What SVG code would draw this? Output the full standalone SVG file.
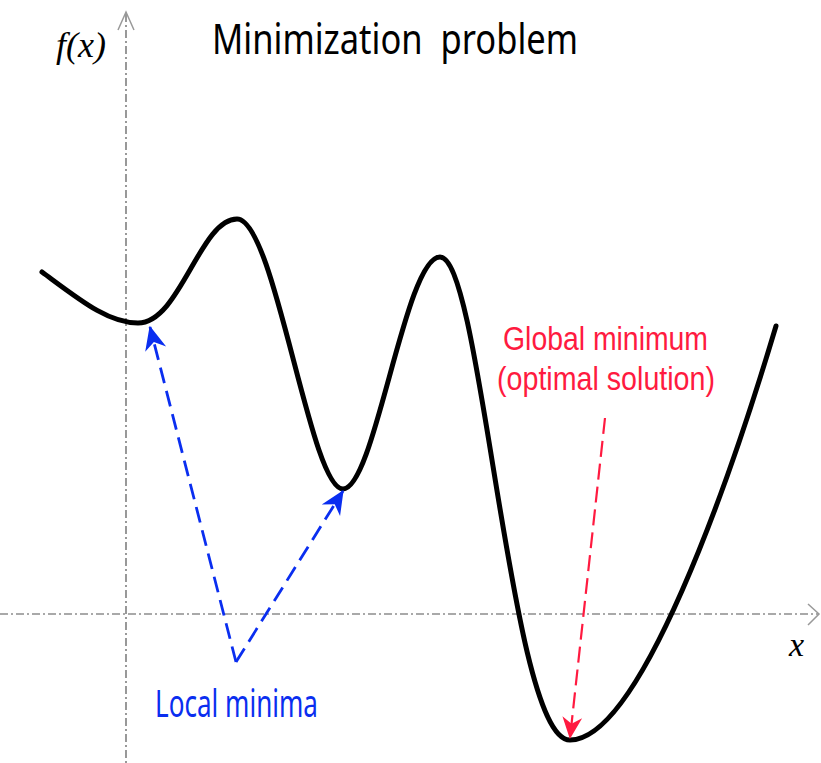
<svg xmlns="http://www.w3.org/2000/svg" width="821" height="763" viewBox="0 0 821 763">
<style>
.axis{stroke:#555;stroke-width:1.2;fill:none;stroke-dasharray:8 3 2 3}
.axhead{stroke:#999;stroke-width:1.5;fill:none}
.curve{stroke:#000;stroke-width:5;fill:none;stroke-linecap:round;stroke-linejoin:round}
.blue{stroke:#0a2ef0;stroke-width:2.8;fill:none;stroke-dasharray:16 8}
.red{stroke:#ff1a40;stroke-width:2.2;fill:none;stroke-dasharray:16 7}
.lbl{font-family:"Noto Sans","Liberation Sans",sans-serif;white-space:pre}
.lbl2{font-family:"Liberation Sans",Arial,sans-serif}
.math{font-family:"Liberation Serif",serif;font-style:italic}
</style>
<defs>
<marker id="ab" viewBox="0 0 20 20" refX="19" refY="10" markerWidth="24" markerHeight="24" markerUnits="userSpaceOnUse" orient="auto">
<path d="M20,10 L0,1 L6,10 L0,19 Z" fill="#0a2ef0"/>
</marker>
<marker id="ar" viewBox="0 0 20 20" refX="19" refY="10" markerWidth="22" markerHeight="22" markerUnits="userSpaceOnUse" orient="auto">
<path d="M20,10 L0,1 L6,10 L0,19 Z" fill="#ff1a40"/>
</marker>
</defs>
<rect width="821" height="763" fill="#fff"/>
<g id="axes">
<line class="axis" x1="126" y1="14" x2="126" y2="763"/>
<polyline class="axhead" points="118,30 126,12 134,30"/>
<line class="axis" x1="0" y1="614" x2="818" y2="614"/>
<polyline class="axhead" points="808,604 819,614 808,625"/>
</g>
<g id="title"><text class="lbl" x="212" y="54" font-size="42" textLength="366" lengthAdjust="spacingAndGlyphs" fill="#000">Minimization  problem</text></g>
<g id="fx"><text class="math" x="56" y="57" font-size="36" fill="#000">f(x)</text></g>
<g id="xlabel"><text class="math" x="789" y="656" font-size="34" fill="#000">x</text></g>
<g id="curve">
<path class="curve" d="M42,272 C80,300 108,323 138,323 C180,323 200,219 237,219 C275,219 310,489 343,489 C375,489 405,257 440,257 C482,257 510,740 570,740 C640,740 730,480 776,326"/>
</g>
<g id="connectors">
<path class="blue" d="M236,662 L150,327" marker-end="url(#ab)"/>
<path class="blue" d="M236,662 L343,491" marker-end="url(#ab)"/>
<path class="red" d="M605,418 L570,738" marker-end="url(#ar)"/>
</g>
<g id="local"><text class="lbl" x="155" y="717" font-size="38" textLength="163" lengthAdjust="spacingAndGlyphs" fill="#0a2ef0">Local minima</text></g>
<g id="global">
<text class="lbl2" x="503" y="350" font-size="33" textLength="205" lengthAdjust="spacingAndGlyphs" fill="#ff1a40">Global minimum</text>
<text class="lbl2" x="497" y="390" font-size="33" textLength="218" lengthAdjust="spacingAndGlyphs" fill="#ff1a40">(optimal solution)</text>
</g>
</svg>
